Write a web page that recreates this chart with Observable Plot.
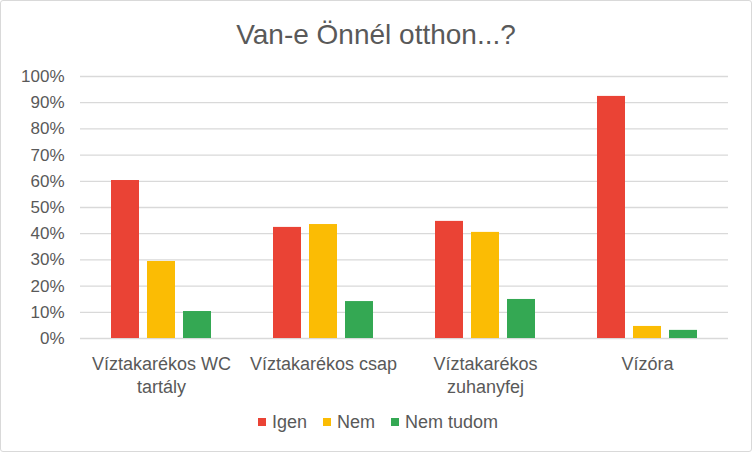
<!DOCTYPE html>
<html>
<head>
<meta charset="utf-8">
<script src="https://cdn.jsdelivr.net/npm/d3@7"></script>
<script src="https://cdn.jsdelivr.net/npm/@observablehq/plot@0.6"></script>
<style>
  html, body { margin: 0; padding: 0; background: #fff; }
  #card {
    box-sizing: border-box; width: 752px; height: 452px;
    border: 1px solid #d9d9d9; border-radius: 3px; background: #fff;
    font-family: "Liberation Sans", Arial, sans-serif; color: #595959;
    overflow: hidden;
  }
  #title { height: 60px; box-sizing: border-box; padding-top: 9px; line-height: 50px;
    font-size: 28px; text-align: center; color: #595959; }
  #chart svg { display: block; }
  #legend { height: 50px; display: flex; justify-content: center; align-items: center;
    font-size: 18px; color: #595959; padding-left: 4px; padding-bottom: 8px; box-sizing: border-box; }
  .item { display: flex; align-items: center; margin: 0 8px; }
  .sw { width: 8px; height: 8px; margin-right: 6px; }
</style>
</head>
<body>
<div id="card">
  <div id="title">Van-e Önnél otthon...?</div>
  <div id="chart"></div>
  <div id="legend"></div>
</div>
<script>
const categories = ["Víztakarékos WC\ntartály", "Víztakarékos csap", "Víztakarékos\nzuhanyfej", "Vízóra"];
const seriesNames = ["Igen", "Nem", "Nem tudom"];
const colors = ["#EA4335", "#FBBC04", "#34A853"];
const igen = [0.603, 0.424, 0.447, 0.924];
const nem = [0.294, 0.435, 0.405, 0.046];
const nemTudom = [0.103, 0.141, 0.149, 0.031];
const yTicks = [0, 0.1, 0.2, 0.3, 0.4, 0.5, 0.6, 0.7, 0.8, 0.9, 1.0];

const seriesValues = [igen, nem, nemTudom];
const rows = [];
categories.forEach((c, i) => {
  seriesNames.forEach((s, j) => rows.push({category: c, series: s, value: seriesValues[j][i]}));
});

const plot = Plot.plot({
  width: 750,
  height: 340,
  marginTop: 15,
  marginBottom: 63,
  marginLeft: 78,
  marginRight: 22,
  style: {fontFamily: '"Liberation Sans", Arial, sans-serif', color: "#595959", background: "transparent"},
  fx: {domain: categories, paddingInner: 0, paddingOuter: 0, label: null},
  x: {domain: seriesNames, paddingInner: 0.222, paddingOuter: 0.861, axis: null},
  y: {domain: [0, 1], label: null},
  color: {domain: seriesNames, range: colors},
  marks: [
    Plot.gridY(yTicks, {stroke: "#d9d9d9", strokeOpacity: 1, strokeWidth: 1.3}),
    Plot.axisY(yTicks, {tickSize: 0, tickPadding: 16, fontSize: 17, tickFormat: d => Math.round(d * 100) + "%", label: null}),
    Plot.axisFx({anchor: "bottom", tickSize: 0, tickPadding: 15, fontSize: 18, lineHeight: 1.27, label: null}),
    Plot.barY(rows, {fx: "category", x: "series", y: "value", fill: "series"})
  ]
});
document.getElementById("chart").appendChild(plot);

const legend = document.getElementById("legend");
seriesNames.forEach((s, i) => {
  const it = document.createElement("div");
  it.className = "item";
  const sw = document.createElement("span");
  sw.className = "sw";
  sw.style.background = colors[i];
  it.appendChild(sw);
  it.appendChild(document.createTextNode(s));
  legend.appendChild(it);
});
</script>
</body>
</html>
